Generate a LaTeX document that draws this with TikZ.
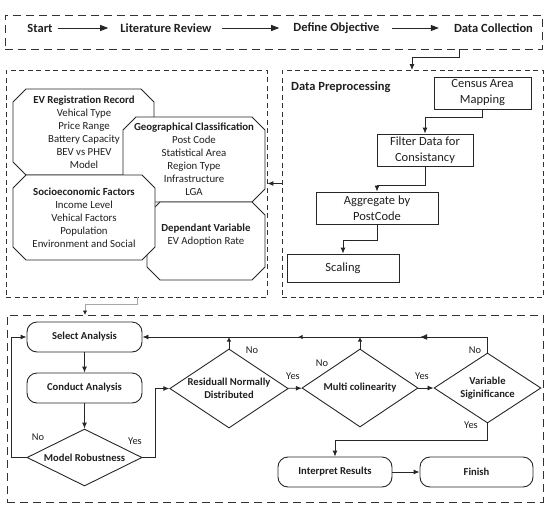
\documentclass[tikz,border=0pt]{standalone}
\usepackage{fontspec}
\setmainfont{Carlito}
\usetikzlibrary{arrows.meta,shapes.geometric,decorations.markings}
\newcommand{\octbox}[4]{\draw[oct] (#1+13,#2) -- (#3-13,#2) -- (#3,#2+13) -- (#3,#4-13) -- (#3-13,#4) -- (#1+13,#4) -- (#1,#4-13) -- (#1,#2+13) -- cycle;}
\begin{document}
\begin{tikzpicture}[x=1pt,y=-1pt,
  txt/.style={text=black!88, inner sep=1pt, align=center},
  toprow/.style={txt, font=\fontsize{12.5}{15}\selectfont\bfseries, inner sep=3pt},
  toparr/.style={draw=black!85, line width=1pt, -{Triangle[length=8pt,width=6pt]}},
  oct/.style={draw=black!85, fill=white, line width=0.9pt, line join=miter},
  octtxt/.style={txt, font=\fontsize{10.8}{13}\selectfont},
  ppbox/.style={draw=black!85, line width=0.9pt, txt, font=\fontsize{12.5}{16}\selectfont},
  rbox/.style={draw=black!85, line width=0.9pt, rounded corners=10pt, minimum width=115pt, minimum height=30pt, txt, font=\fontsize{10.6}{13}\selectfont\bfseries},
  dia/.style={diamond, draw=black!85, line width=0.9pt, inner sep=0pt, txt, font=\fontsize{10.6}{13}\selectfont\bfseries},
  lbl/.style={text=black!88, font=\fontsize{10.4}{12}\selectfont, inner sep=0pt},
  arr/.style={draw=black!85, line width=0.9pt, -{Latex[length=6pt,width=5pt]}},
  arrsmall/.style={draw=black!85, line width=0.9pt, -{Latex[length=4.5pt,width=4.5pt]}},
  bigdash/.style={draw=black!80, line width=1pt, dash pattern=on 8pt off 5pt},
  smalldash/.style={draw=black!80, line width=0.8pt, dash pattern=on 5pt off 3.5pt},
]
\useasboundingbox (0,0) rectangle (550,507);

% ---------- top row ----------
\node[bigdash, minimum width=537pt, minimum height=34pt, inner sep=0pt] (topbox) at (273.5,32) {};
\node[toprow] (start) at (40,28) {Start};
\node[toprow] (lit) at (166,28) {Literature Review};
\node[toprow] (def) at (336.5,28) {Define Objective};
\node[toprow] (dc) at (493.5,28) {Data Collection};
\draw[toparr, shorten <=2pt, shorten >=9pt] (start) -- (lit);
\draw[toparr, shorten <=7pt, shorten >=11pt] (lit) -- (def);
\draw[toparr, shorten <=9pt, shorten >=12pt] (def) -- (dc);

% ---------- panels ----------
\node[smalldash, minimum width=261pt, minimum height=227pt, inner sep=0pt] (lpanel) at (136.5,183.5) {};
\node[smalldash, minimum width=261pt, minimum height=227pt, inner sep=0pt] (ppanel) at (412.5,183.5) {};

\coordinate (dcout) at (459,49);
\coordinate (ppin) at (412,70);
\draw[arr] (dcout) -- ++(0,8) -| (ppin);

% ---------- octagons ----------
\octbox{13}{89}{154}{175}
\node[octtxt] (ev) at (84,132.5) {\textbf{EV Registration Record}\\Vehical Type\\Price Range\\Battery Capacity\\BEV vs PHEV\\Model};
\octbox{123}{117}{265}{202}
\node[octtxt] (geo) at (194,159.5) {\textbf{Geographical Classification}\\Post Code\\Statistical Area\\Region Type\\Infrastructure\\LGA};
\octbox{147}{202}{265}{280}
\node[octtxt] (dep) at (206,235.5) {\textbf{Dependant Variable}\\EV Adoption Rate};
\octbox{13}{175}{155}{260}
\node[octtxt] (soc) at (84,218) {\textbf{Socioeconomic Factors}\\Income Level\\Vehical Factors\\Population\\Environment and Social};

\draw[arr] (ppanel.west) -- (lpanel.east);

% ---------- data preprocessing ----------
\node[txt, font=\fontsize{12.5}{15}\selectfont\bfseries, anchor=west] (dptitle) at (290,87) {Data Preprocessing};
\node[ppbox, minimum width=97pt, minimum height=32pt] (cam) at (482.5,93) {Census Area\\Mapping};
\node[ppbox, minimum width=96pt, minimum height=32pt] (fdc) at (425,150) {Filter Data for\\Consistancy};
\node[ppbox, minimum width=122pt, minimum height=32pt] (agg) at (377,208) {Aggregate by\\PostCode};
\node[ppbox, minimum width=112pt, minimum height=28pt] (scl) at (343,268) {Scaling};
\draw[arr] (cam.south) -- ++(0,8) -| (fdc.north);
\draw[arr] (fdc.south) -- ++(0,19) -| (agg.north);
\draw[arr] (agg.south) -- ++(0,16) -| (scl.north);

% ---------- gray connector ----------
\coordinate (lpout) at (137,297);
\coordinate (bin) at (85,315);
\draw[draw=black!35, line width=0.9pt, -{Latex[length=4.5pt,width=4.5pt,color=black!85]}] (lpout) -- ++(0,7) -| (bin);

% ---------- analysis ----------
\node[bigdash, minimum width=536pt, minimum height=187pt, inner sep=0pt] (bbox) at (275,408.5) {};

\node[rbox] (sel) at (84.5,337) {Select Analysis};
\node[rbox] (con) at (84.5,388) {Conduct Analysis};
\node[dia, aspect=2, minimum width=115pt, minimum height=57pt] (mr) at (84.5,457.5) {Model Robustness};
\node[dia, aspect=1.5, minimum width=116pt, minimum height=77pt] (rnd) at (229,388.5) {Residuall Normally\\Distributed};
\node[dia, aspect=1.5, minimum width=116pt, minimum height=78pt] (mc) at (360,388) {Multi colinearity};
\node[dia, aspect=1.53, minimum width=107pt, minimum height=70pt] (vs) at (487.5,388) {Variable\\Siginificance};
\node[rbox, minimum width=114pt] (ir) at (335,472) {Interpret Results};
\node[rbox, minimum width=113pt] (fin) at (476.5,472) {Finish};

\draw[arr] (sel) -- (con);
\draw[arr] (con) -- (mr);
\draw[arr] (mr.west) -- ++(-15,0) |- (sel.west);
\draw[arr] (mr.east) -- ++(13,0) |- (rnd.west);
\draw[arr] (rnd) -- (mc);
\draw[arr] (mc) -- (vs);
\draw[arr] (vs.south) -- ++(0,17) -| (ir.north);
\draw[arr] (ir) -- (fin);
\draw[arr, postaction={decorate}, decoration={markings,
    mark=at position 83pt with {\arrow{Latex[length=7pt,width=6pt]}},
    mark=at position 205pt with {\arrow{Latex[length=4.5pt,width=4.5pt]}}}]
  (vs.north) |- (sel.east);
\draw[arrsmall] (rnd.north) -- (rnd.north |- sel.east);
\draw[arrsmall] (mc.north) -- (mc.north |- sel.east);

\node[lbl] (no1) at (38,437) {No};
\node[lbl] (yes1) at (135,441) {Yes};
\node[lbl] (no2) at (252,350) {No};
\node[lbl] (yes2) at (293,376) {Yes};
\node[lbl] (no3) at (322,363) {No};
\node[lbl] (yes3) at (422,376) {Yes};
\node[lbl] (no4) at (475,350) {No};
\node[lbl] (yes4) at (471,425) {Yes};
\end{tikzpicture}
\end{document}
